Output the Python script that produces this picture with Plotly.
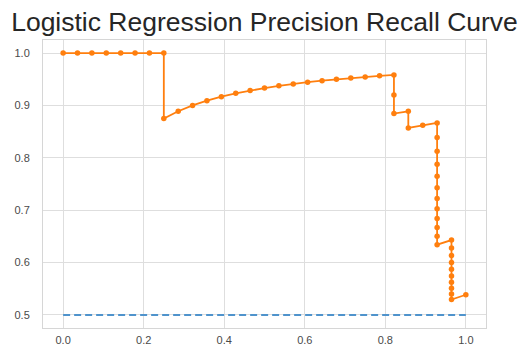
import plotly.graph_objects as go

# Precision-recall points from the logistic regression model (highest recall first)
recall = [
    1.0,
    0.9643, 0.9643, 0.9643, 0.9643, 0.9643, 0.9643, 0.9643, 0.9643, 0.9643, 0.9643,
    0.9286, 0.9286, 0.9286, 0.9286, 0.9286, 0.9286, 0.9286, 0.9286, 0.9286, 0.9286, 0.9286, 0.9286,
    0.8929,
    0.8571, 0.8571,
    0.8214, 0.8214, 0.8214,
    0.7857, 0.75, 0.7143, 0.6786, 0.6429, 0.6071, 0.5714, 0.5357, 0.5,
    0.4643, 0.4286, 0.3929, 0.3571, 0.3214, 0.2857, 0.25,
    0.25, 0.2143, 0.1786, 0.1429, 0.1071, 0.0714, 0.0357, 0.0,
]
precision = [
    0.5385,
    0.5294, 0.54, 0.551, 0.5625, 0.5745, 0.587, 0.6, 0.6136, 0.6279, 0.6429,
    0.6341, 0.65, 0.6667, 0.6842, 0.7027, 0.7222, 0.7429, 0.7647, 0.7879, 0.8125, 0.8387, 0.8667,
    0.8621,
    0.8571, 0.8889,
    0.8846, 0.92, 0.9583,
    0.9565, 0.9545, 0.9524, 0.95, 0.9474, 0.9444, 0.9412, 0.9375, 0.9333,
    0.9286, 0.9231, 0.9167, 0.9091, 0.9, 0.8889, 0.875,
    1.0, 1.0, 1.0, 1.0, 1.0, 1.0, 1.0, 1.0,
]

# No-skill baseline (share of positives)
no_skill_x = [0.0, 1.0]
no_skill_y = [0.5, 0.5]

x_ticks = [0.0, 0.2, 0.4, 0.6, 0.8, 1.0]
y_ticks = [0.5, 0.6, 0.7, 0.8, 0.9, 1.0]

fig = go.Figure()
fig.add_trace(go.Scatter(
    x=no_skill_x, y=no_skill_y, mode="lines", name="No Skill",
    line=dict(color="#4f93cc", width=2, dash="7px,4px"),
))
fig.add_trace(go.Scatter(
    x=recall, y=precision, mode="lines+markers", name="Logistic",
    line=dict(color="#ff7f0e", width=1.8),
    marker=dict(color="#ff7f0e", size=5.5),
))

axis_common = dict(
    showgrid=True, gridcolor="#dedede", gridwidth=1,
    zeroline=False, showline=True, mirror=True, linecolor="#d6d6d6", linewidth=1,
    ticks="", automargin=False,
    tickfont=dict(family="Liberation Sans, Arial, sans-serif", size=11, color="#4a4a4a"),
)

fig.update_layout(
    width=518, height=347,
    margin=dict(l=43, r=32, t=40, b=19),
    paper_bgcolor="white", plot_bgcolor="white",
    showlegend=False,
    title=dict(
        text="Logistic Regression Precision Recall Curve",
        x=0.5, xref="paper", xanchor="center",
        y=1 - 22 / 347, yref="container", yanchor="middle",
        font=dict(family="Liberation Sans, Arial, sans-serif", size=26.5, color="#262626"),
        automargin=False,
    ),
    xaxis=dict(range=[-0.05, 1.05], tickvals=x_ticks, ticktext=[f"{v:.1f}" for v in x_ticks],
               ticklabelstandoff=2, **axis_common),
    yaxis=dict(range=[0.475, 1.025], tickvals=y_ticks, ticktext=[f"{v:.1f}" for v in y_ticks],
               ticklabelstandoff=10, **axis_common),
)

fig.write_html("out.html")
